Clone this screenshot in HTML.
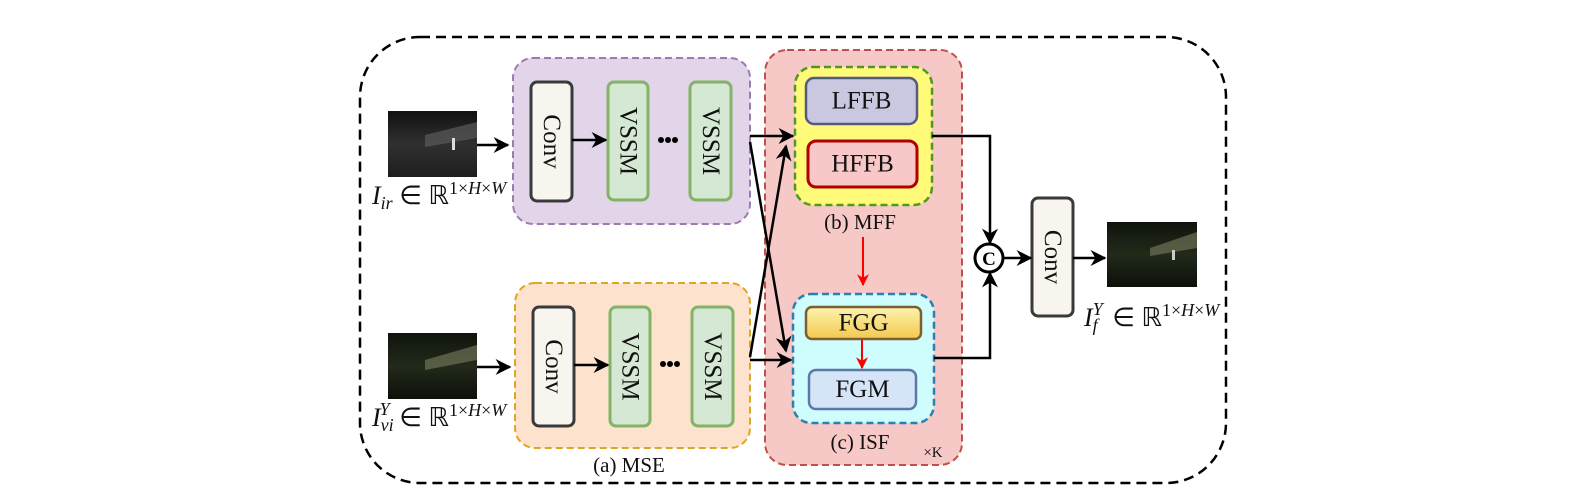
<!DOCTYPE html>
<html><head><meta charset="utf-8"><style>
html,body{margin:0;padding:0;background:#fff;}
svg{display:block;}
text{font-family:"Liberation Serif",serif;}
</style></head><body>
<svg width="1587" height="495" viewBox="0 0 1587 495" xmlns="http://www.w3.org/2000/svg">
<defs>
<marker id="ar" viewBox="0 0 10 10" refX="9" refY="5" markerWidth="12" markerHeight="12" orient="auto" markerUnits="userSpaceOnUse">
<path d="M0,0 L10,5 L0,10 L3,5 Z" fill="#f00"/>
</marker>
<marker id="ab" viewBox="0 0 10 10" refX="9" refY="5" markerWidth="16" markerHeight="16" orient="auto" markerUnits="userSpaceOnUse">
<path d="M0,0 L10,5 L0,10 L3,5 Z" fill="#000"/>
</marker>
<linearGradient id="gold" x1="0" y1="0" x2="0" y2="1"><stop offset="0" stop-color="#fff3b0"/><stop offset="1" stop-color="#f2c94c"/></linearGradient>
<linearGradient id="irimg" x1="0" y1="0" x2="0" y2="1"><stop offset="0" stop-color="#111"/><stop offset="0.5" stop-color="#303030"/><stop offset="1" stop-color="#1e1e1e"/></linearGradient>
<linearGradient id="viimg" x1="0" y1="0" x2="0" y2="1"><stop offset="0" stop-color="#0f140c"/><stop offset="0.5" stop-color="#222a1a"/><stop offset="1" stop-color="#0c100a"/></linearGradient>
</defs>

<rect x="360" y="37" width="866" height="446" rx="60" fill="none" stroke="#000" stroke-width="2.5" stroke-dasharray="10,6"/>

<rect x="388" y="111" width="89" height="66" fill="url(#irimg)"/>
<polygon points="425,135 477,122 477,138 425,147" fill="#5a5a5a" opacity="0.7"/>
<rect x="452" y="138" width="3" height="12" fill="#ddd"/>
<rect x="388" y="333" width="89" height="66" fill="url(#viimg)"/>
<polygon points="425,360 477,345 477,360 425,370" fill="#7a8060" opacity="0.6"/>
<rect x="1107" y="222" width="90" height="65" fill="url(#viimg)"/>
<polygon points="1150,248 1197,232 1197,248 1150,256" fill="#7a8060" opacity="0.6"/>
<rect x="1172" y="250" width="3" height="10" fill="#ccc"/>

<rect x="513" y="58" width="237" height="166" rx="20" fill="#e2d5ea" stroke="#9b7bb0" stroke-width="2" stroke-dasharray="7,4"/>
<rect x="515" y="283" width="235" height="165" rx="20" fill="#fde3cd" stroke="#e0a525" stroke-width="2" stroke-dasharray="7,4"/>

<rect x="765" y="50" width="197" height="415" rx="22" fill="#f6c8c6" stroke="#c0504d" stroke-width="2" stroke-dasharray="7,4"/>
<rect x="795" y="67" width="137" height="138" rx="18" fill="#fffb78" stroke="#4f9a1e" stroke-width="2.5" stroke-dasharray="7,4"/>
<rect x="806" y="78" width="111" height="46" rx="8" fill="#c9c8e0" stroke="#555a80" stroke-width="2.5"/>
<rect x="808" y="141" width="109" height="46" rx="8" fill="#f8c8c8" stroke="#b00000" stroke-width="3"/>
<rect x="793" y="294" width="141" height="129" rx="18" fill="#cffcfc" stroke="#2e7fb0" stroke-width="2.5" stroke-dasharray="7,4"/>
<rect x="806" y="307" width="115" height="32" rx="6" fill="url(#gold)" stroke="#7a6030" stroke-width="2.5"/>
<rect x="809" y="370" width="107" height="39" rx="7" fill="#d6e4f8" stroke="#5a78a8" stroke-width="2.5"/>

<g stroke-width="3">
<rect x="531" y="82" width="41" height="119" rx="6" fill="#f7f5ee" stroke="#3a3a3a"/>
<rect x="608" y="82" width="40" height="118" rx="6" fill="#d5e8d4" stroke="#82b366"/>
<rect x="690" y="82" width="41" height="118" rx="6" fill="#d5e8d4" stroke="#82b366"/>
<rect x="533" y="307" width="41" height="119" rx="6" fill="#f7f5ee" stroke="#3a3a3a"/>
<rect x="610" y="307" width="40" height="119" rx="6" fill="#d5e8d4" stroke="#82b366"/>
<rect x="692" y="307" width="41" height="119" rx="6" fill="#d5e8d4" stroke="#82b366"/>
<rect x="1032" y="198" width="41" height="118" rx="6" fill="#f7f5ee" stroke="#3a3a3a"/>
</g>

<g font-size="25" fill="#111" text-anchor="middle" dominant-baseline="central">
<text transform="translate(551.5,141.5) rotate(90)">Conv</text>
<text transform="translate(628,141) rotate(90)">VSSM</text>
<text transform="translate(710.5,141) rotate(90)">VSSM</text>
<text transform="translate(553.5,366.5) rotate(90)">Conv</text>
<text transform="translate(630,366.5) rotate(90)">VSSM</text>
<text transform="translate(712.5,366.5) rotate(90)">VSSM</text>
<text transform="translate(1052.5,257) rotate(90)">Conv</text>
<text x="861.5" y="101">LFFB</text>
<text x="862.5" y="164">HFFB</text>
<text x="863.5" y="323">FGG</text>
<text x="862.5" y="389.5">FGM</text>
</g>
<g font-size="21" fill="#111" text-anchor="middle">
<text x="860" y="229">(b) MFF</text>
<text x="860" y="449">(c) ISF</text>
<text x="629" y="472">(a) MSE</text>
<text x="933" y="457" font-size="15">×K</text>
</g>
<g fill="#000"><circle cx="661" cy="140" r="3"/><circle cx="668" cy="140" r="3"/><circle cx="675" cy="140" r="3"/>
<circle cx="663" cy="364" r="3"/><circle cx="670" cy="364" r="3"/><circle cx="677" cy="364" r="3"/></g>

<g stroke="#000" stroke-width="2.5" fill="none" marker-end="url(#ab)">
<line x1="477" y1="145" x2="508" y2="145"/>
<line x1="572" y1="140" x2="606" y2="140"/>
<line x1="477" y1="367" x2="510" y2="367"/>
<line x1="574" y1="365" x2="608" y2="365"/>
<line x1="750" y1="136" x2="793" y2="136"/>
<line x1="750" y1="360" x2="791" y2="360"/>
<line x1="750" y1="142" x2="786" y2="351"/>
<line x1="750" y1="357" x2="786" y2="146"/>
<polyline points="932,136 990,136 990,243"/>
<polyline points="934,358 990,358 990,273"/>
<line x1="1004" y1="258" x2="1031" y2="258"/>
<line x1="1073" y1="258" x2="1105" y2="258"/>
</g>
<g stroke="#f00" stroke-width="2" fill="none" marker-end="url(#ar)">
<line x1="863" y1="237" x2="863" y2="285"/>
<line x1="862" y1="340" x2="862" y2="368"/>
</g>
<circle cx="989" cy="258" r="14" fill="#fff" stroke="#000" stroke-width="3"/>
<text x="989" y="265" font-size="19" font-weight="bold" text-anchor="middle">C</text>

<g fill="#111">
<text x="372" y="204" font-size="26"><tspan font-style="italic">I</tspan><tspan font-size="18" font-style="italic" dy="5">ir</tspan><tspan dy="-5"> ∈ ℝ</tspan><tspan font-size="18" dy="-10">1×<tspan font-style="italic">H</tspan>×<tspan font-style="italic">W</tspan></tspan></text>
<text x="372" y="426" font-size="26"><tspan font-style="italic">I</tspan><tspan font-size="18" font-style="italic" dy="5">vi</tspan><tspan font-size="18" font-style="italic" dx="-14" dy="-16">Y</tspan><tspan dx="3" dy="11"> ∈ ℝ</tspan><tspan font-size="18" dy="-10">1×<tspan font-style="italic">H</tspan>×<tspan font-style="italic">W</tspan></tspan></text>
<text x="1084" y="326" font-size="26"><tspan font-style="italic">I</tspan><tspan font-size="18" font-style="italic" dy="5">f</tspan><tspan font-size="18" font-style="italic" dx="-5" dy="-16">Y</tspan><tspan dx="3" dy="11"> ∈ ℝ</tspan><tspan font-size="18" dy="-10">1×<tspan font-style="italic">H</tspan>×<tspan font-style="italic">W</tspan></tspan></text>
</g>
</svg>
</body></html>
